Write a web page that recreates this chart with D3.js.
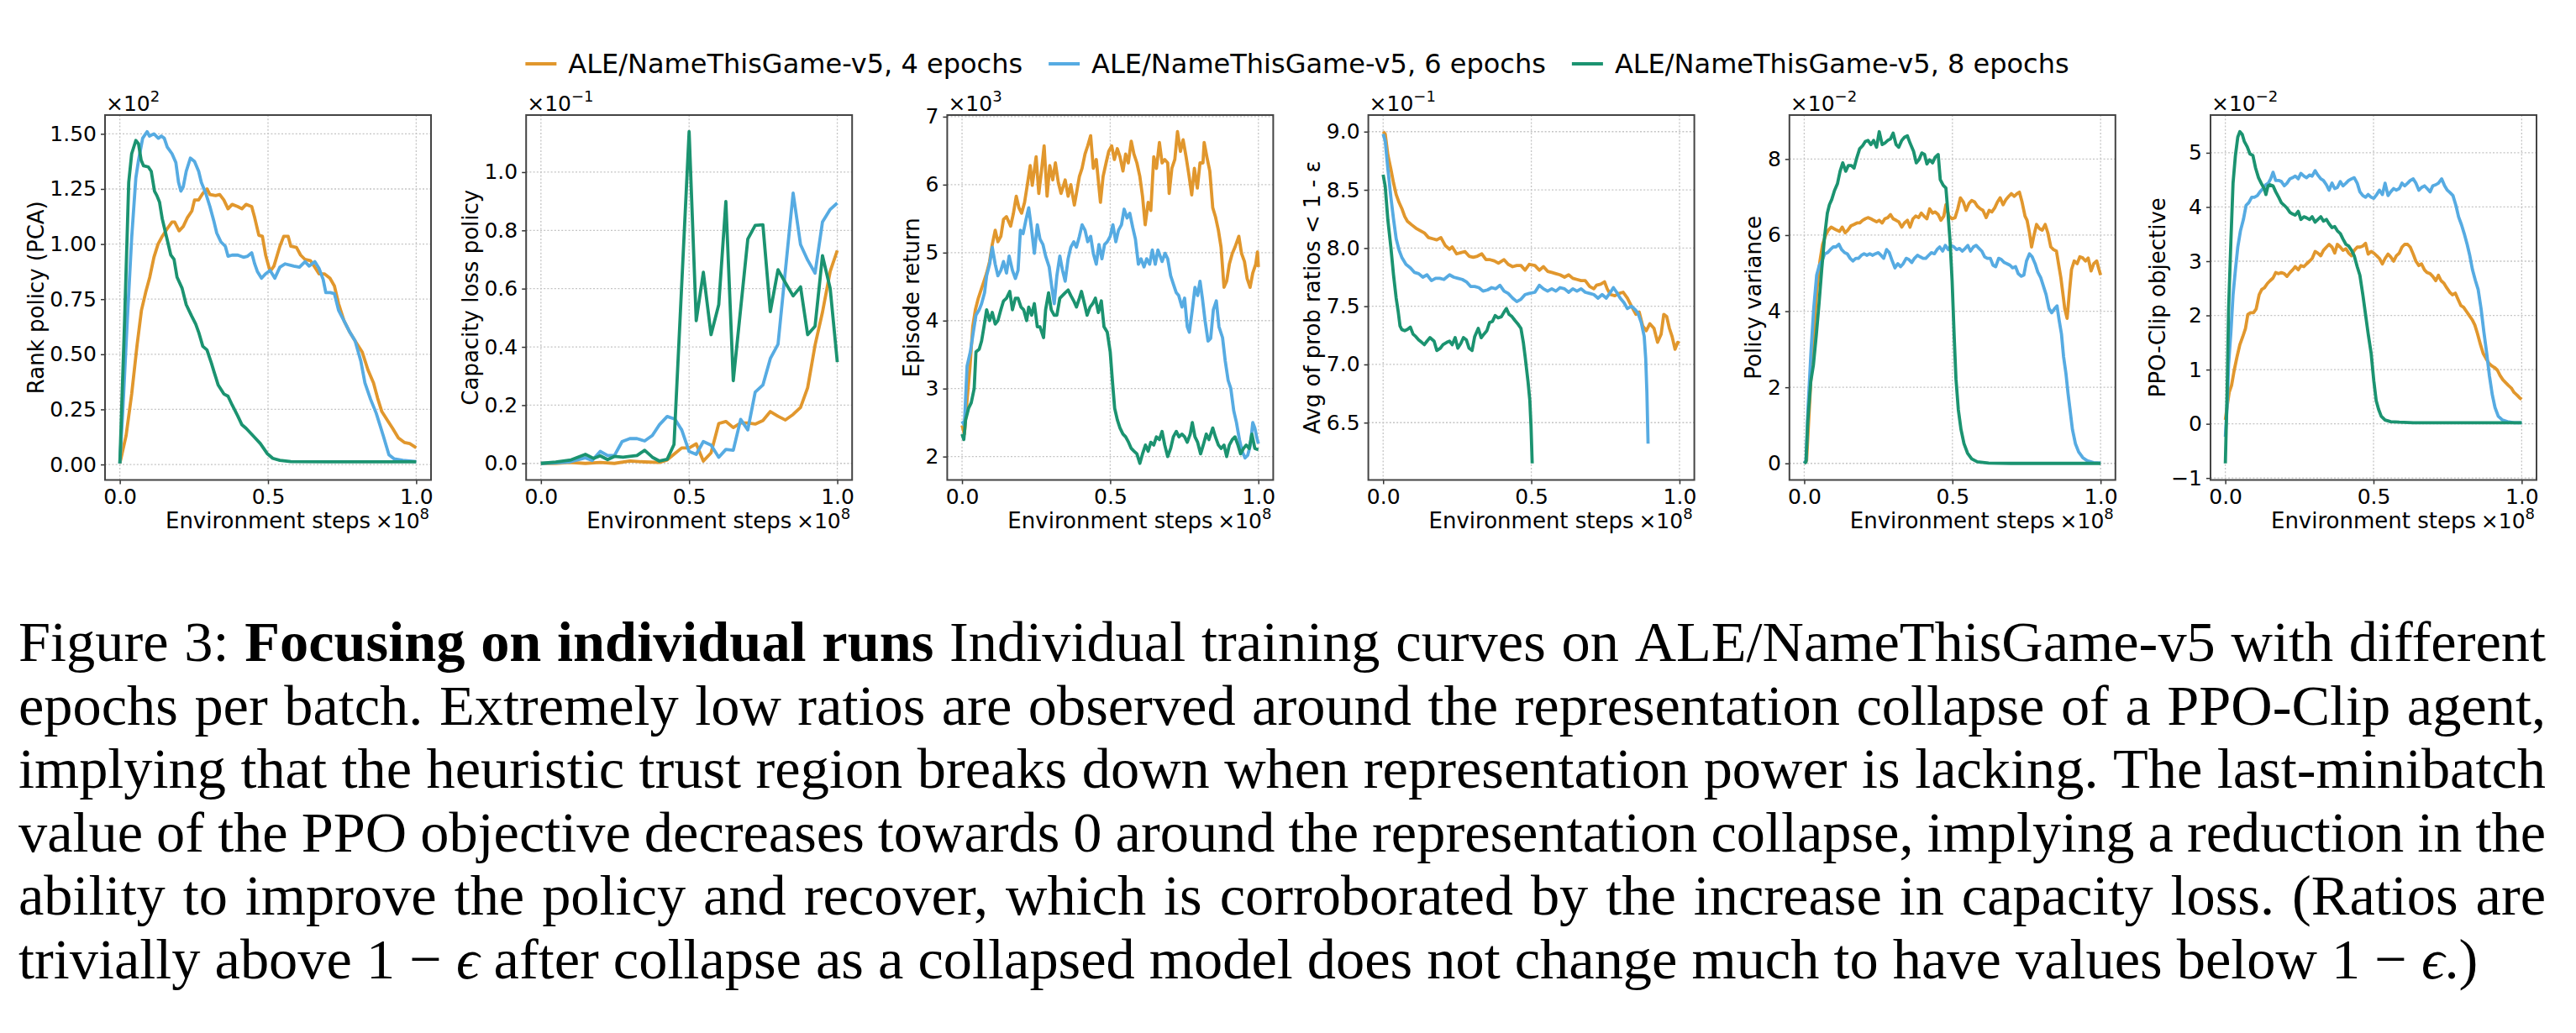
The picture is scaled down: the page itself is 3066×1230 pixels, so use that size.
<!DOCTYPE html>
<html><head><meta charset="utf-8">
<script src="https://cdn.jsdelivr.net/npm/d3@7"></script>
<style>body{margin:0;background:#fff}svg{display:block}</style>
</head><body>
<svg id="fig" width="3066" height="1230"></svg>
<script>
// ---------------- DATA ----------------
const seriesNames = ["ALE/NameThisGame-v5, 4 epochs","ALE/NameThisGame-v5, 6 epochs","ALE/NameThisGame-v5, 8 epochs"];
const seriesColors = ["#E1972D","#56ABE2","#1B9370"];
const xTicks = [0, 0.5, 1.0];

// Panel 1: Rank policy (PCA), x10^2
const rank4 = [[0,0.005],[0.021,0.13],[0.04,0.32],[0.058,0.54],[0.073,0.70],[0.087,0.78],[0.101,0.85],[0.115,0.94],[0.129,1.00],[0.143,1.035],[0.16,1.07],[0.176,1.10],[0.185,1.10],[0.2,1.06],[0.214,1.08],[0.228,1.12],[0.243,1.15],[0.252,1.20],[0.266,1.20],[0.28,1.23],[0.294,1.25],[0.304,1.225],[0.323,1.22],[0.337,1.225],[0.351,1.20],[0.365,1.16],[0.379,1.18],[0.398,1.17],[0.412,1.16],[0.426,1.18],[0.445,1.17],[0.455,1.12],[0.469,1.04],[0.481,1.035],[0.492,0.95],[0.507,0.876],[0.52,0.90],[0.54,0.99],[0.553,1.035],[0.568,1.035],[0.577,0.99],[0.596,0.985],[0.61,0.95],[0.625,0.93],[0.643,0.925],[0.658,0.895],[0.672,0.865],[0.69,0.865],[0.709,0.845],[0.724,0.81],[0.738,0.73],[0.757,0.65],[0.776,0.60],[0.794,0.56],[0.818,0.51],[0.837,0.43],[0.856,0.37],[0.87,0.30],[0.884,0.24],[0.903,0.20],[0.92,0.165],[0.94,0.12],[0.96,0.10],[0.978,0.095],[1.0,0.076]];
const rank6 = [[0,0.005],[0.011,0.27],[0.025,0.65],[0.04,1.03],[0.054,1.30],[0.063,1.38],[0.077,1.48],[0.092,1.51],[0.1,1.49],[0.115,1.50],[0.13,1.48],[0.14,1.49],[0.15,1.48],[0.16,1.44],[0.176,1.41],[0.189,1.37],[0.198,1.28],[0.206,1.24],[0.214,1.26],[0.224,1.33],[0.238,1.39],[0.252,1.375],[0.266,1.33],[0.275,1.28],[0.29,1.23],[0.304,1.17],[0.318,1.10],[0.327,1.05],[0.341,1.01],[0.356,0.99],[0.365,0.945],[0.379,0.95],[0.398,0.95],[0.417,0.94],[0.431,0.945],[0.445,0.96],[0.455,0.91],[0.464,0.876],[0.478,0.845],[0.492,0.865],[0.507,0.88],[0.523,0.845],[0.54,0.895],[0.558,0.91],[0.587,0.90],[0.606,0.895],[0.625,0.92],[0.639,0.90],[0.658,0.92],[0.672,0.89],[0.686,0.84],[0.695,0.78],[0.71,0.78],[0.724,0.775],[0.738,0.70],[0.757,0.65],[0.776,0.60],[0.794,0.56],[0.813,0.47],[0.827,0.37],[0.846,0.296],[0.865,0.233],[0.889,0.13],[0.908,0.044],[0.926,0.025],[0.955,0.019],[1.0,0.013]];
const rank8 = [[0,0.005],[0.016,0.65],[0.03,1.28],[0.04,1.41],[0.054,1.47],[0.063,1.455],[0.072,1.38],[0.08,1.355],[0.096,1.35],[0.106,1.33],[0.117,1.24],[0.125,1.22],[0.134,1.19],[0.143,1.115],[0.158,1.03],[0.172,0.95],[0.183,0.93],[0.193,0.85],[0.21,0.80],[0.224,0.725],[0.242,0.674],[0.256,0.637],[0.266,0.60],[0.28,0.536],[0.294,0.52],[0.309,0.46],[0.318,0.42],[0.332,0.36],[0.351,0.32],[0.365,0.31],[0.379,0.27],[0.398,0.22],[0.412,0.18],[0.426,0.164],[0.45,0.13],[0.474,0.095],[0.497,0.05],[0.516,0.028],[0.54,0.019],[0.577,0.013],[0.7,0.012],[0.85,0.012],[1.0,0.012]];
const rankTicks = [0, 0.25, 0.5, 0.75, 1.0, 1.25, 1.5];

// Panel 2: Capacity loss policy, x10^-1
const cap4 = [[0,0],[0.05,0],[0.097,0.003],[0.15,0],[0.2,0.003],[0.248,0],[0.3,0.008],[0.35,0.005],[0.4,0.003],[0.426,0.012],[0.452,0.034],[0.475,0.053],[0.5,0.053],[0.524,0.067],[0.548,0.008],[0.574,0.036],[0.6,0.137],[0.624,0.144],[0.649,0.123],[0.674,0.139],[0.698,0.139],[0.723,0.135],[0.749,0.147],[0.774,0.178],[0.8,0.162],[0.825,0.149],[0.851,0.168],[0.876,0.192],[0.9,0.26],[0.925,0.406],[0.95,0.519],[0.976,0.659],[1.0,0.731]];
const cap6 = [[0,0],[0.05,0.002],[0.097,0.005],[0.15,0.019],[0.173,0.01],[0.2,0.041],[0.225,0.027],[0.248,0.027],[0.274,0.075],[0.3,0.085],[0.324,0.085],[0.35,0.077],[0.376,0.096],[0.4,0.133],[0.426,0.161],[0.452,0.152],[0.475,0.115],[0.5,0.041],[0.524,0.031],[0.548,0.075],[0.574,0.063],[0.6,0.021],[0.624,0.048],[0.649,0.045],[0.674,0.151],[0.698,0.115],[0.723,0.245],[0.749,0.269],[0.774,0.36],[0.8,0.409],[0.851,0.928],[0.876,0.751],[0.9,0.698],[0.925,0.653],[0.95,0.829],[0.976,0.872],[1.0,0.894]];
const cap8 = [[0,0],[0.05,0.005],[0.102,0.012],[0.15,0.031],[0.178,0.017],[0.2,0.026],[0.225,0.013],[0.248,0.024],[0.277,0.021],[0.3,0.024],[0.324,0.027],[0.35,0.045],[0.376,0.021],[0.4,0.008],[0.426,0.014],[0.449,0.065],[0.5,1.139],[0.524,0.49],[0.548,0.656],[0.574,0.442],[0.6,0.545],[0.624,0.899],[0.649,0.284],[0.698,0.77],[0.723,0.817],[0.749,0.819],[0.774,0.521],[0.8,0.665],[0.825,0.62],[0.851,0.575],[0.876,0.606],[0.9,0.442],[0.925,0.471],[0.95,0.713],[0.976,0.601],[1.0,0.348]];
const capTicks = [0, 0.2, 0.4, 0.6, 0.8, 1.0];

// Panel 3: Episode return, x10^3
const ret4 = [[0,2.46],[0.008,2.33],[0.017,2.83],[0.027,3.33],[0.036,3.91],[0.045,4.16],[0.055,4.33],[0.064,4.45],[0.074,4.58],[0.083,4.70],[0.093,4.87],[0.102,5.12],[0.112,5.33],[0.121,5.16],[0.131,5.24],[0.14,5.49],[0.15,5.53],[0.164,5.39],[0.173,5.57],[0.183,5.83],[0.192,5.66],[0.201,5.58],[0.211,5.74],[0.22,5.99],[0.23,6.28],[0.237,5.99],[0.25,6.41],[0.259,5.87],[0.268,6.20],[0.277,6.57],[0.287,5.83],[0.296,6.28],[0.306,6.07],[0.315,6.32],[0.325,6.03],[0.334,5.87],[0.348,6.07],[0.358,5.83],[0.367,6.00],[0.379,5.70],[0.386,5.87],[0.396,6.12],[0.405,6.24],[0.415,6.45],[0.424,6.57],[0.434,6.72],[0.443,6.24],[0.453,6.37],[0.467,5.74],[0.476,6.12],[0.486,6.32],[0.495,6.49],[0.505,6.57],[0.514,6.37],[0.524,6.53],[0.533,6.41],[0.543,6.20],[0.552,6.45],[0.561,6.32],[0.571,6.64],[0.58,6.45],[0.59,6.32],[0.6,6.12],[0.609,5.83],[0.618,5.41],[0.628,5.74],[0.637,5.62],[0.647,6.41],[0.656,6.24],[0.666,6.62],[0.675,6.32],[0.684,6.37],[0.694,6.32],[0.699,5.87],[0.708,6.24],[0.718,6.37],[0.727,6.78],[0.737,6.49],[0.746,6.66],[0.756,6.41],[0.765,6.16],[0.775,5.85],[0.784,6.24],[0.794,5.95],[0.803,6.32],[0.813,6.32],[0.817,6.62],[0.827,6.39],[0.836,6.20],[0.846,5.66],[0.855,5.53],[0.865,5.33],[0.874,5.08],[0.884,4.49],[0.893,4.58],[0.902,4.83],[0.912,4.99],[0.921,5.08],[0.934,5.24],[0.943,4.99],[0.953,4.87],[0.962,4.62],[0.972,4.49],[0.981,4.70],[0.991,4.83],[0.997,5.01],[1.0,4.79]];
const ret6 = [[0,2.52],[0.008,2.46],[0.017,3.33],[0.028,3.54],[0.038,3.83],[0.047,4.08],[0.058,4.16],[0.066,4.25],[0.076,4.41],[0.083,4.66],[0.093,4.83],[0.102,5.08],[0.112,4.83],[0.121,4.66],[0.131,4.74],[0.14,4.87],[0.15,4.70],[0.159,4.95],[0.17,4.74],[0.18,4.62],[0.189,4.74],[0.197,5.33],[0.206,5.28],[0.216,5.49],[0.225,5.66],[0.235,5.33],[0.244,4.99],[0.254,5.41],[0.263,5.20],[0.273,5.12],[0.282,4.95],[0.294,4.79],[0.303,4.49],[0.311,4.25],[0.32,4.66],[0.33,4.95],[0.339,4.74],[0.348,4.58],[0.358,4.91],[0.367,5.08],[0.377,5.16],[0.386,5.08],[0.396,5.24],[0.405,5.41],[0.415,5.33],[0.424,5.16],[0.434,5.24],[0.443,4.99],[0.453,4.83],[0.462,5.12],[0.472,4.91],[0.481,5.12],[0.49,5.16],[0.5,5.24],[0.509,5.41],[0.519,5.16],[0.528,5.33],[0.538,5.41],[0.547,5.64],[0.557,5.51],[0.566,5.58],[0.576,5.37],[0.585,5.20],[0.595,4.83],[0.604,4.91],[0.614,4.79],[0.623,4.91],[0.633,4.83],[0.642,5.04],[0.652,4.83],[0.661,5.04],[0.675,4.87],[0.685,4.99],[0.694,4.91],[0.704,4.66],[0.713,4.54],[0.723,4.41],[0.731,4.37],[0.742,4.20],[0.751,4.33],[0.76,3.91],[0.767,3.83],[0.777,4.16],[0.786,4.49],[0.795,4.37],[0.803,4.58],[0.811,4.33],[0.82,4.00],[0.83,3.70],[0.839,3.74],[0.848,4.16],[0.858,4.29],[0.867,3.91],[0.879,3.75],[0.888,3.41],[0.898,3.12],[0.907,3.00],[0.917,2.67],[0.926,2.50],[0.936,2.25],[0.945,2.08],[0.955,1.98],[0.964,2.02],[0.973,2.17],[0.981,2.50],[0.988,2.42],[0.994,2.29],[1.0,2.19]];
const ret8 = [[0,2.33],[0.006,2.25],[0.012,2.54],[0.022,2.71],[0.031,2.79],[0.041,3.00],[0.047,3.54],[0.058,3.58],[0.066,3.70],[0.074,3.91],[0.083,4.16],[0.093,4.00],[0.102,4.12],[0.112,3.95],[0.121,4.00],[0.131,4.16],[0.14,4.29],[0.15,4.33],[0.161,4.43],[0.17,4.16],[0.18,4.33],[0.189,4.33],[0.199,4.20],[0.208,4.16],[0.218,4.00],[0.225,4.20],[0.235,4.08],[0.244,4.25],[0.254,3.91],[0.263,3.91],[0.275,3.75],[0.282,4.16],[0.292,4.41],[0.301,4.16],[0.311,4.08],[0.32,4.08],[0.33,4.33],[0.339,4.37],[0.348,4.41],[0.358,4.45],[0.367,4.37],[0.377,4.29],[0.386,4.20],[0.396,4.33],[0.403,4.43],[0.413,4.25],[0.422,4.08],[0.432,4.20],[0.441,4.25],[0.45,4.33],[0.46,4.12],[0.47,4.29],[0.479,3.91],[0.49,3.83],[0.5,3.54],[0.508,3.08],[0.515,2.71],[0.524,2.54],[0.533,2.42],[0.543,2.33],[0.552,2.29],[0.562,2.21],[0.571,2.12],[0.58,2.08],[0.59,2.04],[0.6,1.90],[0.609,2.04],[0.619,2.17],[0.628,2.08],[0.637,2.21],[0.647,2.17],[0.656,2.29],[0.666,2.25],[0.675,2.37],[0.684,2.17],[0.694,2.00],[0.704,2.12],[0.713,2.29],[0.723,2.37],[0.732,2.29],[0.742,2.33],[0.751,2.29],[0.76,2.21],[0.77,2.33],[0.777,2.50],[0.786,2.29],[0.795,2.21],[0.805,2.04],[0.814,2.17],[0.824,2.33],[0.833,2.25],[0.846,2.42],[0.855,2.29],[0.865,2.17],[0.874,2.12],[0.884,2.17],[0.893,2.00],[0.902,2.17],[0.912,2.25],[0.921,2.29],[0.931,2.17],[0.94,2.04],[0.95,2.12],[0.959,2.17],[0.969,2.12],[0.978,2.33],[0.988,2.12],[1.0,2.10]];
const retTicks = [2, 3, 4, 5, 6, 7];

// Panel 4: Avg of prob ratios < 1 - eps, x10^-1
const ratio4 = [[0,9.00],[0.007,8.98],[0.016,8.80],[0.026,8.68],[0.035,8.56],[0.044,8.46],[0.054,8.39],[0.063,8.34],[0.073,8.27],[0.082,8.23],[0.096,8.20],[0.111,8.17],[0.125,8.15],[0.139,8.13],[0.153,8.09],[0.167,8.08],[0.181,8.07],[0.195,8.09],[0.21,8.02],[0.224,7.99],[0.233,8.01],[0.248,7.95],[0.262,7.96],[0.276,7.97],[0.29,7.93],[0.304,7.92],[0.318,7.93],[0.333,7.95],[0.347,7.90],[0.361,7.90],[0.375,7.89],[0.389,7.87],[0.408,7.90],[0.422,7.86],[0.437,7.84],[0.451,7.85],[0.465,7.85],[0.479,7.81],[0.493,7.86],[0.512,7.85],[0.527,7.81],[0.541,7.84],[0.555,7.80],[0.569,7.79],[0.583,7.78],[0.597,7.77],[0.612,7.75],[0.626,7.77],[0.64,7.74],[0.654,7.73],[0.668,7.72],[0.682,7.72],[0.697,7.67],[0.711,7.65],[0.72,7.68],[0.734,7.69],[0.747,7.71],[0.756,7.65],[0.767,7.60],[0.782,7.59],[0.796,7.61],[0.81,7.62],[0.824,7.57],[0.838,7.50],[0.853,7.43],[0.864,7.45],[0.876,7.33],[0.888,7.29],[0.9,7.35],[0.914,7.31],[0.926,7.19],[0.938,7.26],[0.947,7.43],[0.957,7.41],[0.966,7.31],[0.975,7.24],[0.985,7.13],[0.994,7.19],[1.0,7.18]];
const ratio6 = [[0,8.98],[0.007,8.92],[0.016,8.68],[0.026,8.44],[0.035,8.25],[0.044,8.08],[0.054,7.98],[0.063,7.92],[0.077,7.86],[0.092,7.83],[0.106,7.79],[0.12,7.78],[0.134,7.75],[0.148,7.77],[0.163,7.72],[0.177,7.74],[0.191,7.74],[0.205,7.73],[0.224,7.77],[0.238,7.75],[0.252,7.74],[0.267,7.73],[0.281,7.71],[0.295,7.67],[0.309,7.67],[0.323,7.66],[0.337,7.63],[0.352,7.64],[0.366,7.66],[0.38,7.65],[0.394,7.68],[0.408,7.63],[0.422,7.61],[0.437,7.57],[0.451,7.54],[0.465,7.56],[0.479,7.60],[0.493,7.61],[0.512,7.62],[0.527,7.68],[0.541,7.65],[0.555,7.63],[0.569,7.65],[0.583,7.63],[0.597,7.66],[0.612,7.65],[0.626,7.62],[0.64,7.65],[0.654,7.63],[0.668,7.65],[0.682,7.62],[0.697,7.61],[0.711,7.60],[0.725,7.57],[0.739,7.60],[0.753,7.57],[0.767,7.62],[0.777,7.66],[0.788,7.62],[0.8,7.57],[0.813,7.53],[0.824,7.48],[0.838,7.50],[0.851,7.47],[0.86,7.44],[0.871,7.36],[0.881,7.24],[0.886,7.05],[0.89,6.76],[0.894,6.32]];
const ratio8 = [[0,8.63],[0.007,8.53],[0.016,8.24],[0.026,8.01],[0.035,7.77],[0.044,7.57],[0.051,7.45],[0.057,7.33],[0.063,7.30],[0.073,7.29],[0.082,7.30],[0.092,7.32],[0.101,7.26],[0.11,7.24],[0.12,7.21],[0.13,7.19],[0.139,7.17],[0.148,7.20],[0.158,7.23],[0.172,7.20],[0.181,7.12],[0.193,7.14],[0.202,7.17],[0.215,7.19],[0.224,7.20],[0.233,7.17],[0.243,7.23],[0.252,7.14],[0.262,7.18],[0.271,7.23],[0.281,7.21],[0.29,7.14],[0.3,7.12],[0.309,7.24],[0.321,7.31],[0.331,7.23],[0.34,7.26],[0.35,7.29],[0.359,7.36],[0.369,7.37],[0.378,7.42],[0.388,7.40],[0.399,7.41],[0.408,7.45],[0.416,7.48],[0.425,7.43],[0.435,7.41],[0.444,7.38],[0.454,7.35],[0.465,7.31],[0.473,7.19],[0.479,7.07],[0.489,6.85],[0.495,6.69],[0.499,6.47],[0.503,6.15]];
const ratioTicks = [6.5, 7.0, 7.5, 8.0, 8.5, 9.0];

// Panel 5: Policy variance, x10^-2
const var4 = [[0,0],[0.008,0.08],[0.015,1.11],[0.025,2.59],[0.034,3.62],[0.043,4.58],[0.053,5.32],[0.062,5.76],[0.072,5.99],[0.081,6.13],[0.091,6.21],[0.1,6.17],[0.11,6.13],[0.119,6.10],[0.128,6.21],[0.138,6.06],[0.147,6.13],[0.157,6.24],[0.168,6.28],[0.178,6.32],[0.187,6.32],[0.197,6.39],[0.206,6.43],[0.215,6.46],[0.225,6.43],[0.234,6.39],[0.244,6.35],[0.253,6.39],[0.263,6.32],[0.272,6.43],[0.282,6.46],[0.291,6.54],[0.3,6.43],[0.31,6.39],[0.319,6.35],[0.329,6.21],[0.338,6.32],[0.348,6.39],[0.357,6.21],[0.367,6.43],[0.376,6.50],[0.386,6.46],[0.395,6.58],[0.404,6.50],[0.414,6.43],[0.423,6.69],[0.433,6.58],[0.442,6.61],[0.452,6.54],[0.461,6.39],[0.471,6.50],[0.478,6.80],[0.488,6.50],[0.499,6.43],[0.509,6.46],[0.518,6.69],[0.527,6.98],[0.537,6.87],[0.546,6.65],[0.556,6.83],[0.565,6.91],[0.575,6.87],[0.584,6.76],[0.594,6.69],[0.603,6.65],[0.614,6.46],[0.624,6.65],[0.633,6.61],[0.643,6.72],[0.652,6.87],[0.661,6.98],[0.671,6.80],[0.681,6.94],[0.69,7.02],[0.699,7.09],[0.709,7.02],[0.718,7.09],[0.726,7.13],[0.735,6.87],[0.745,6.50],[0.752,6.39],[0.76,6.06],[0.767,5.69],[0.775,5.99],[0.784,6.28],[0.794,6.17],[0.803,6.13],[0.813,6.28],[0.822,6.06],[0.832,5.69],[0.841,5.62],[0.851,5.58],[0.858,5.25],[0.866,4.88],[0.872,4.51],[0.879,4.07],[0.887,3.81],[0.894,4.44],[0.902,5.10],[0.911,5.32],[0.921,5.25],[0.93,5.43],[0.94,5.40],[0.949,5.32],[0.958,5.40],[0.968,5.06],[0.977,5.25],[0.987,5.32],[0.993,5.14],[1.0,4.95]];
const var6 = [[0,0],[0.006,0.08],[0.013,1.48],[0.023,2.96],[0.032,4.07],[0.042,4.95],[0.051,5.21],[0.06,5.32],[0.069,5.51],[0.079,5.54],[0.088,5.62],[0.098,5.69],[0.107,5.69],[0.117,5.76],[0.126,5.62],[0.136,5.54],[0.145,5.51],[0.155,5.39],[0.164,5.32],[0.174,5.39],[0.183,5.39],[0.193,5.47],[0.202,5.51],[0.212,5.47],[0.221,5.51],[0.231,5.47],[0.24,5.51],[0.25,5.54],[0.259,5.47],[0.268,5.39],[0.278,5.62],[0.287,5.54],[0.297,5.32],[0.306,5.14],[0.316,5.25],[0.325,5.17],[0.334,5.25],[0.344,5.39],[0.353,5.36],[0.363,5.28],[0.372,5.39],[0.382,5.47],[0.391,5.43],[0.401,5.39],[0.41,5.39],[0.42,5.47],[0.429,5.54],[0.439,5.51],[0.448,5.62],[0.457,5.69],[0.467,5.58],[0.476,5.73],[0.486,5.62],[0.495,5.73],[0.505,5.69],[0.514,5.62],[0.524,5.65],[0.533,5.58],[0.543,5.65],[0.552,5.73],[0.561,5.58],[0.571,5.69],[0.58,5.73],[0.59,5.65],[0.599,5.58],[0.609,5.43],[0.618,5.39],[0.628,5.39],[0.637,5.21],[0.646,5.17],[0.656,5.39],[0.665,5.36],[0.675,5.28],[0.684,5.25],[0.694,5.21],[0.703,5.14],[0.713,5.17],[0.722,4.99],[0.732,4.92],[0.741,4.95],[0.75,5.32],[0.76,5.51],[0.769,5.43],[0.779,5.25],[0.788,5.03],[0.798,4.88],[0.807,4.66],[0.816,4.44],[0.826,4.07],[0.835,3.96],[0.845,4.07],[0.853,4.14],[0.86,3.77],[0.868,3.40],[0.875,2.81],[0.883,2.37],[0.89,1.85],[0.898,1.34],[0.905,0.89],[0.915,0.52],[0.926,0.30],[0.94,0.15],[0.955,0.07],[0.976,0.02],[1.0,0.01]];
const var8 = [[0,0],[0.006,0.04],[0.012,1.11],[0.022,2.15],[0.031,2.59],[0.041,3.40],[0.05,4.21],[0.059,5.10],[0.069,5.99],[0.078,6.58],[0.085,6.80],[0.093,6.94],[0.102,7.17],[0.112,7.35],[0.121,7.68],[0.13,7.90],[0.14,7.68],[0.149,7.83],[0.159,7.83],[0.168,7.76],[0.178,8.05],[0.187,8.27],[0.197,8.35],[0.206,8.46],[0.215,8.49],[0.225,8.38],[0.234,8.49],[0.244,8.31],[0.253,8.72],[0.263,8.38],[0.272,8.42],[0.282,8.49],[0.291,8.53],[0.3,8.68],[0.31,8.38],[0.319,8.31],[0.329,8.49],[0.338,8.57],[0.348,8.61],[0.357,8.42],[0.369,8.20],[0.378,7.90],[0.387,7.98],[0.397,8.16],[0.406,8.12],[0.414,7.87],[0.423,7.98],[0.433,7.90],[0.442,8.05],[0.452,8.12],[0.459,7.46],[0.469,7.31],[0.478,7.24],[0.485,6.58],[0.492,5.84],[0.499,4.80],[0.506,3.33],[0.512,2.22],[0.52,1.41],[0.529,0.89],[0.539,0.52],[0.551,0.27],[0.565,0.12],[0.584,0.04],[0.622,0.01],[0.698,0],[0.792,0],[1.0,0]];
const varTicks = [0, 2, 4, 6, 8];

// Panel 6: PPO-Clip objective, x10^-2
const obj4 = [[0,0.07],[0.006,0.32],[0.013,0.58],[0.021,0.71],[0.03,0.99],[0.04,1.25],[0.049,1.46],[0.059,1.61],[0.068,1.76],[0.076,2.02],[0.085,2.05],[0.095,2.05],[0.104,2.12],[0.114,2.38],[0.123,2.48],[0.132,2.51],[0.142,2.59],[0.151,2.64],[0.161,2.69],[0.17,2.79],[0.18,2.77],[0.189,2.79],[0.199,2.77],[0.208,2.72],[0.218,2.79],[0.227,2.84],[0.236,2.90],[0.246,2.84],[0.255,2.92],[0.265,2.90],[0.274,2.95],[0.284,3.00],[0.293,3.05],[0.303,3.18],[0.312,3.15],[0.322,3.10],[0.331,3.20],[0.341,3.26],[0.35,3.31],[0.36,3.26],[0.369,3.15],[0.378,3.31],[0.388,3.26],[0.397,3.20],[0.407,3.23],[0.416,3.15],[0.426,3.10],[0.435,3.20],[0.445,3.26],[0.454,3.26],[0.464,3.28],[0.473,3.33],[0.482,3.13],[0.492,3.18],[0.501,3.15],[0.511,3.10],[0.52,3.05],[0.53,2.95],[0.539,3.05],[0.549,3.13],[0.558,3.08],[0.568,3.00],[0.577,3.10],[0.587,3.15],[0.596,3.26],[0.605,3.31],[0.615,3.31],[0.624,3.26],[0.634,3.13],[0.643,3.00],[0.653,2.92],[0.662,2.95],[0.672,2.84],[0.681,2.79],[0.691,2.77],[0.7,2.72],[0.71,2.64],[0.719,2.74],[0.728,2.64],[0.738,2.59],[0.747,2.51],[0.757,2.43],[0.766,2.38],[0.776,2.41],[0.785,2.30],[0.795,2.18],[0.804,2.15],[0.814,2.07],[0.823,2.00],[0.833,1.92],[0.842,1.82],[0.851,1.66],[0.861,1.46],[0.87,1.30],[0.88,1.20],[0.889,1.12],[0.899,1.07],[0.908,1.04],[0.918,0.99],[0.927,0.89],[0.937,0.81],[0.946,0.76],[0.955,0.71],[0.965,0.66],[0.974,0.58],[0.984,0.53],[0.993,0.48],[1.0,0.45]];
const obj6 = [[0,-0.24],[0.006,0.32],[0.011,1.10],[0.019,1.71],[0.026,2.38],[0.034,2.84],[0.042,3.26],[0.051,3.56],[0.061,3.77],[0.07,4.03],[0.079,4.08],[0.089,4.18],[0.098,4.18],[0.108,4.21],[0.117,4.28],[0.127,4.34],[0.136,4.41],[0.145,4.44],[0.153,4.52],[0.161,4.64],[0.17,4.49],[0.18,4.49],[0.189,4.47],[0.199,4.39],[0.208,4.44],[0.218,4.52],[0.227,4.54],[0.236,4.57],[0.246,4.52],[0.255,4.62],[0.265,4.57],[0.274,4.54],[0.284,4.59],[0.293,4.57],[0.303,4.67],[0.312,4.59],[0.322,4.52],[0.331,4.49],[0.341,4.41],[0.35,4.31],[0.36,4.44],[0.369,4.34],[0.378,4.36],[0.388,4.47],[0.397,4.39],[0.407,4.44],[0.416,4.49],[0.426,4.52],[0.435,4.54],[0.445,4.44],[0.454,4.28],[0.464,4.21],[0.473,4.18],[0.482,4.23],[0.492,4.18],[0.501,4.16],[0.511,4.23],[0.52,4.31],[0.53,4.23],[0.539,4.44],[0.549,4.21],[0.558,4.28],[0.568,4.34],[0.577,4.31],[0.587,4.34],[0.596,4.44],[0.605,4.39],[0.615,4.44],[0.624,4.49],[0.634,4.52],[0.643,4.44],[0.653,4.31],[0.662,4.36],[0.672,4.39],[0.681,4.34],[0.691,4.28],[0.7,4.39],[0.71,4.41],[0.719,4.44],[0.73,4.52],[0.74,4.39],[0.749,4.31],[0.759,4.26],[0.768,4.21],[0.778,4.03],[0.787,3.82],[0.797,3.67],[0.806,3.51],[0.816,3.31],[0.825,3.10],[0.834,2.84],[0.844,2.64],[0.853,2.48],[0.863,2.12],[0.872,1.71],[0.882,1.30],[0.891,0.89],[0.901,0.53],[0.91,0.30],[0.921,0.14],[0.935,0.07],[0.952,0.04],[0.974,0.02],[1.0,0.02]];
const obj8 = [[0,-0.73],[0.006,0.58],[0.011,2.12],[0.019,3.41],[0.026,4.44],[0.034,4.95],[0.042,5.29],[0.049,5.39],[0.057,5.34],[0.064,5.21],[0.074,5.11],[0.083,4.98],[0.093,4.95],[0.102,4.72],[0.112,4.54],[0.121,4.44],[0.131,4.34],[0.137,4.23],[0.144,4.39],[0.151,4.41],[0.161,4.39],[0.17,4.28],[0.18,4.18],[0.189,4.08],[0.199,4.03],[0.208,3.98],[0.218,3.90],[0.227,3.87],[0.236,3.85],[0.246,3.92],[0.255,3.77],[0.265,3.82],[0.274,3.80],[0.284,3.77],[0.293,3.82],[0.303,3.72],[0.312,3.77],[0.322,3.82],[0.331,3.74],[0.341,3.77],[0.35,3.69],[0.36,3.62],[0.369,3.64],[0.378,3.56],[0.388,3.51],[0.397,3.41],[0.407,3.31],[0.416,3.28],[0.426,3.20],[0.435,3.10],[0.445,2.90],[0.454,2.74],[0.464,2.38],[0.473,2.02],[0.482,1.66],[0.492,1.30],[0.501,0.79],[0.509,0.43],[0.517,0.27],[0.526,0.14],[0.539,0.07],[0.558,0.04],[0.587,0.03],[0.634,0.02],[0.7,0.02],[0.795,0.02],[0.889,0.02],[1.0,0.02]];
const objTicks = [-1, 0, 1, 2, 3, 4, 5];

// Caption (bold words: line 0, words 2..5; ϵ rendered italic)
const captionLines = [
  "Figure 3: Focusing on individual runs Individual training curves on ALE/NameThisGame-v5 with different",
  "epochs per batch. Extremely low ratios are observed around the representation collapse of a PPO-Clip agent,",
  "implying that the heuristic trust region breaks down when representation power is lacking. The last-minibatch",
  "value of the PPO objective decreases towards 0 around the representation collapse, implying a reduction in the",
  "ability to improve the policy and recover, which is corroborated by the increase in capacity loss. (Ratios are",
  "trivially above 1 − ϵ after collapse as a collapsed model does not change much to have values below 1 − ϵ.)"
];
const captionBold = {line: 0, from: 2, to: 5};

// ---------------- LAYOUT ----------------
const panels = [
  {ylabel:"Rank policy (PCA)", exp:"2", ticks:rankTicks, fmt:d3.format(".2f"), series:[rank4,rank6,rank8]},
  {ylabel:"Capacity loss policy", exp:"−1", ticks:capTicks, fmt:d3.format(".1f"), series:[cap4,cap6,cap8]},
  {ylabel:"Episode return", exp:"3", ticks:retTicks, fmt:d3.format("d"), series:[ret4,ret6,ret8]},
  {ylabel:"Avg of prob ratios < 1 - ε", exp:"−1", ticks:ratioTicks, fmt:d3.format(".1f"), series:[ratio4,ratio6,ratio8]},
  {ylabel:"Policy variance", exp:"−2", ticks:varTicks, fmt:d3.format("d"), series:[var4,var6,var8]},
  {ylabel:"PPO-Clip objective", exp:"−2", ticks:objTicks, fmt:d3.format("d"), series:[obj4,obj6,obj8]}
];
const FONT = "'DejaVu Sans', sans-serif";
const L0 = 125, STEP = 501.2, PW = 388, TOP = 137, BOT = 571.5;
const svg = d3.select("#fig");
svg.append("rect").attr("width",3066).attr("height",1230).attr("fill","#fff");

function textWidth(str, size, family){
  const t = svg.append("text").attr("font-family",family).attr("font-size",size).text(str);
  const w = t.node().getComputedTextLength(); t.remove(); return w;
}

panels.forEach((p,i)=>{
  const left = L0 + i*STEP, right = left + PW;
  const all = p.series.flat().map(d=>d[1]);
  const mn = d3.min(all), mx = d3.max(all), pad = (mx-mn)*0.05;
  const x = d3.scaleLinear().domain([-0.05,1.05]).range([left,right]);
  const y = d3.scaleLinear().domain([mn-pad,mx+pad]).range([BOT,TOP]);
  const g = svg.append("g");
  g.selectAll(".gx").data(xTicks).enter().append("line")
    .attr("x1",d=>x(d)).attr("x2",d=>x(d)).attr("y1",TOP).attr("y2",BOT)
    .attr("stroke","#c4c4c4").attr("stroke-width",1.3).attr("stroke-dasharray","2,2.2");
  g.selectAll(".gy").data(p.ticks).enter().append("line")
    .attr("x1",left).attr("x2",right).attr("y1",d=>y(d)).attr("y2",d=>y(d))
    .attr("stroke","#c4c4c4").attr("stroke-width",1.3).attr("stroke-dasharray","2,2.2");
  const ax = g.append("g").attr("transform",`translate(0,${BOT})`)
    .call(d3.axisBottom(x).tickValues(xTicks).tickFormat(d3.format(".1f")).tickSize(5).tickPadding(6));
  const ay = g.append("g").attr("transform",`translate(${left},0)`)
    .call(d3.axisLeft(y).tickValues(p.ticks).tickFormat(p.fmt).tickSize(5).tickPadding(5));
  [ax,ay].forEach(a=>{
    a.select(".domain").remove();
    a.selectAll(".tick line").attr("stroke","#333").attr("stroke-width",1.5);
    a.selectAll(".tick text").attr("font-family",FONT).attr("font-size",25).attr("fill","#000");
  });
  const line = d3.line().x(d=>x(d[0])).y(d=>y(d[1]));
  p.series.forEach((s,k)=>{
    g.append("path").datum(s).attr("d",line).attr("fill","none")
      .attr("stroke",seriesColors[k]).attr("stroke-width",3.8)
      .attr("stroke-linejoin","round").attr("stroke-linecap","butt");
  });
  g.append("rect").attr("x",left).attr("y",TOP).attr("width",PW).attr("height",BOT-TOP)
    .attr("fill","none").attr("stroke","#444").attr("stroke-width",2);
  let maxW = 0;
  ay.selectAll(".tick text").each(function(){ maxW = Math.max(maxW, this.getComputedTextLength()); });
  const lx = left - 10 - maxW - 17;
  g.append("text").attr("transform",`translate(${lx},${(TOP+BOT)/2}) rotate(-90)`)
    .attr("text-anchor","middle").attr("dy","0.36em").attr("font-family",FONT).attr("font-size",26)
    .text(p.ylabel);
  const yo = g.append("text").attr("x",left+1).attr("y",132).attr("font-family",FONT).attr("font-size",25);
  yo.append("tspan").text("×10");
  yo.append("tspan").attr("dy",-11).attr("font-size",18).text(p.exp);
  g.append("text").attr("x",(left+right)/2).attr("y",629).attr("text-anchor","middle")
    .attr("font-family",FONT).attr("font-size",26).text("Environment steps");
  const xo = g.append("text").attr("x",right-2).attr("y",629).attr("text-anchor","end")
    .attr("font-family",FONT).attr("font-size",25);
  xo.append("tspan").text("×10");
  xo.append("tspan").attr("dy",-11).attr("font-size",18).text("8");
});

// legend
(function(){
  const FS = 32, HL = 37, HG = 14, IG = 31;
  const ws = seriesNames.map(n=>textWidth(n,FS,FONT));
  const total = d3.sum(ws) + 3*(HL+HG) + 2*IG;
  let cx = 1544 - total/2;
  seriesNames.forEach((n,k)=>{
    svg.append("line").attr("x1",cx).attr("x2",cx+HL).attr("y1",76).attr("y2",76)
      .attr("stroke",seriesColors[k]).attr("stroke-width",4);
    svg.append("text").attr("x",cx+HL+HG).attr("y",87).attr("font-family",FONT).attr("font-size",FS).text(n);
    cx += HL + HG + ws[k] + IG;
  });
})();

// caption
(function(){
  const CF = "'Liberation Serif', 'Times New Roman', serif";
  const XL = 22, XR = 3030, LAST_R = 2950, BASE0 = 787, LH = 75.5;
  const linesWords = captionLines.map((s,li)=>s.split(" ").map((w,wi)=>({
    w, bold: li===captionBold.line && wi>=captionBold.from && wi<=captionBold.to
  })));
  function fill(t, word){
    word.w.split(/(ϵ)/).filter(s=>s).forEach(part=>{
      t.append("tspan").attr("font-weight",word.bold?"bold":"normal")
        .attr("font-style",part==="ϵ"?"italic":"normal").text(part);
    });
  }
  function wordW(word,size){
    const t = svg.append("text").attr("font-family",CF).attr("font-size",size);
    fill(t,word);
    const w = t.node().getComputedTextLength(); t.remove(); return w;
  }
  const last = linesWords[linesWords.length-1];
  const ref = 100;
  const nat = d3.sum(last, w=>wordW(w,ref)) + (last.length-1)*0.25*ref;
  const size = ref * (LAST_R - XL) / nat;
  linesWords.forEach((words,li)=>{
    const ws = words.map(w=>wordW(w,size));
    const isLast = li === linesWords.length-1;
    const gap = isLast ? 0.25*size : (XR - XL - d3.sum(ws)) / (words.length-1);
    let xx = XL;
    words.forEach((w,k)=>{
      const t = svg.append("text").attr("x",xx).attr("y",BASE0 + li*LH)
        .attr("font-family",CF).attr("font-size",size).attr("fill","#000");
      fill(t,w);
      xx += ws[k] + gap;
    });
  });
})();
</script>
</body></html>
